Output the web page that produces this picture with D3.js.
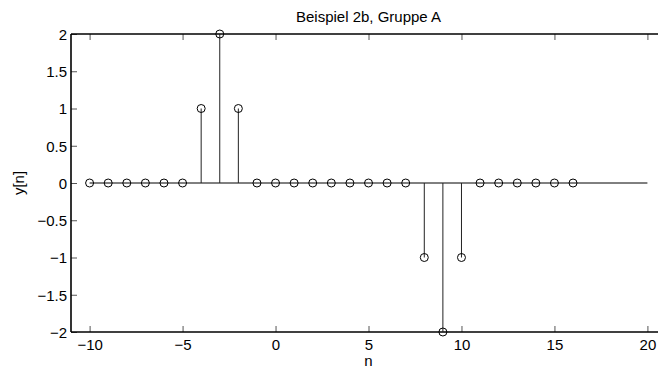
<!DOCTYPE html>
<html>
<head>
<meta charset="utf-8">
<script src="https://cdn.jsdelivr.net/npm/d3@7"></script>
<style>
  body { margin: 0; background: #fff; }
  svg { display: block; font-family: "Liberation Sans", Arial, sans-serif; }
  .axis path { display: none; }
  .axis line { stroke: #555; }
  .axis text { font-size: 15px; fill: #000; }
</style>
</head>
<body>
<div id="chart"></div>
<script>
// data: n and y[n]
const nValues = [-10, -9, -8, -7, -6, -5, -4, -3, -2, -1, 0, 1, 2, 3, 4, 5, 6, 7, 8, 9, 10, 11, 12, 13, 14, 15, 16];
const yValues = [0, 0, 0, 0, 0, 0, 1, 2, 1, 0, 0, 0, 0, 0, 0, 0, 0, 0, -1, -2, -1, 0, 0, 0, 0, 0, 0];
const xTicks = [-10, -5, 0, 5, 10, 15, 20];
const yTicks = [-2, -1.5, -1, -0.5, 0, 0.5, 1, 1.5, 2];
const baselineRange = [-10, 20];
const title = "Beispiel 2b, Gruppe A";

const width = 658, height = 372;
const margins = { top: 34, bottom: 40, left: 71, right: -8 };

const data = nValues.map((n, i) => ({ n: n, y: yValues[i] }));

const svg = d3.select("#chart").append("svg")
  .attr("width", width)
  .attr("height", height);

const xScale = d3.scaleLinear()
  .domain([-11, 21])
  .range([margins.left, width - margins.right]);

const yScale = d3.scaleLinear()
  .domain([-2, 2])
  .range([height - margins.bottom, margins.top]);

const fmt = d3.format("~g");

// bottom axis, ticks pointing inward
svg.append("g")
  .attr("class", "axis x-axis")
  .attr("transform", `translate(0,${yScale(-2)})`)
  .call(d3.axisBottom(xScale).tickValues(xTicks).tickFormat(fmt).tickSizeInner(-6).tickSizeOuter(0).tickPadding(7));

// top axis ticks only
svg.append("g")
  .attr("class", "axis x-top")
  .attr("transform", `translate(0,${yScale(2)})`)
  .call(d3.axisTop(xScale).tickValues(xTicks).tickFormat("").tickSizeInner(-6).tickSizeOuter(0));

// left axis
svg.append("g")
  .attr("class", "axis y-axis")
  .attr("transform", `translate(${xScale(-11)},0)`)
  .call(d3.axisLeft(yScale).tickValues(yTicks).tickFormat(fmt).tickSizeInner(-6).tickSizeOuter(0).tickPadding(4));

svg.selectAll(".y-axis text").attr("dy", "0.36em");

// frame
svg.append("line")
  .attr("x1", xScale(-11)).attr("x2", width)
  .attr("y1", yScale(2)).attr("y2", yScale(2))
  .attr("stroke", "#000").attr("stroke-width", 1.3);
svg.append("line")
  .attr("x1", xScale(-11)).attr("x2", width)
  .attr("y1", yScale(-2)).attr("y2", yScale(-2))
  .attr("stroke", "#000").attr("stroke-width", 1.3);
svg.append("line")
  .attr("x1", xScale(-11)).attr("x2", xScale(-11))
  .attr("y1", yScale(2)).attr("y2", yScale(-2))
  .attr("stroke", "#000").attr("stroke-width", 1.6);

// baseline
svg.append("line")
  .attr("x1", xScale(baselineRange[0])).attr("x2", xScale(baselineRange[1]))
  .attr("y1", yScale(0)).attr("y2", yScale(0))
  .attr("stroke", "#000").attr("stroke-width", 1);

// stems
svg.selectAll(".stem")
  .data(data.filter(d => d.y != 0))
  .join("line")
  .attr("class", "stem")
  .attr("x1", d => xScale(d.n)).attr("x2", d => xScale(d.n))
  .attr("y1", yScale(0)).attr("y2", d => yScale(d.y))
  .attr("stroke", "#222").attr("stroke-width", 1);

// markers (open circles, baseline shows through)
svg.selectAll(".dot")
  .data(data)
  .join("circle")
  .attr("class", "dot")
  .attr("cx", d => xScale(d.n))
  .attr("cy", d => yScale(d.y))
  .attr("r", 4)
  .attr("fill", "none")
  .attr("stroke", "#000")
  .attr("stroke-width", 1);

// title and labels
svg.append("text")
  .attr("x", (xScale(-11) + xScale(21)) / 2)
  .attr("y", 22)
  .attr("text-anchor", "middle")
  .style("font-size", "15px")
  .text(title);

svg.append("text")
  .attr("x", (xScale(-11) + xScale(21)) / 2)
  .attr("y", 366)
  .attr("text-anchor", "middle")
  .style("font-size", "15px")
  .text("n");

svg.append("text")
  .attr("transform", `translate(24,${yScale(0)}) rotate(-90)`)
  .attr("text-anchor", "middle")
  .style("font-size", "15px")
  .text("y[n]");
</script>
</body>
</html>
